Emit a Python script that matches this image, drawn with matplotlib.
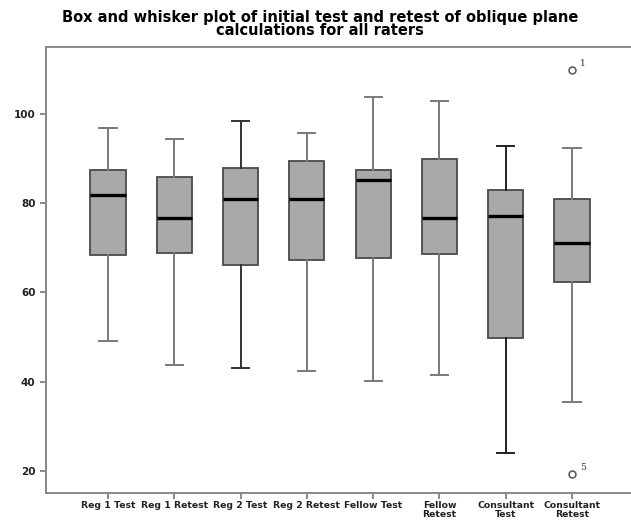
import numpy as np
import matplotlib
matplotlib.use('Agg')
import matplotlib.pyplot as plt

# groups and five-number summaries
groups = ['Reg 1 Test', 'Reg 1 Retest', 'Reg 2 Test', 'Reg 2 Retest', 'Fellow Test',
          'Fellow\nRetest', 'Consultant\nTest', 'Consultant\nRetest']
whis_lo = [49.0, 43.7, 43.0, 42.3, 40.1, 41.5, 23.9, 35.4]
q1 = [68.4, 68.9, 66.1, 67.2, 67.7, 68.6, 49.7, 62.2]
med = [81.8, 76.7, 80.9, 81.0, 85.1, 76.7, 77.1, 71.0]
q3 = [87.5, 85.8, 87.8, 89.5, 87.4, 89.9, 83.0, 81.0]
whis_hi = [96.8, 94.3, 98.5, 95.7, 103.8, 102.9, 92.8, 92.4]
fliers = [[], [], [], [], [], [], [], [109.9, 19.2]]
flier_ids = [[], [], [], [], [], [], [], ['1', '5']]

# darker whiskers on some groups
whisk_col = ['#7a7a7a', '#7a7a7a', '#333333', '#7a7a7a', '#7a7a7a', '#7a7a7a', '#222222', '#7a7a7a']

stats = []
for i in range(len(groups)):
    stats.append(dict(med=med[i], q1=q1[i], q3=q3[i], whislo=whis_lo[i],
                      whishi=whis_hi[i], fliers=fliers[i], label=groups[i]))

fig = plt.figure(figsize=(6.31, 5.22), dpi=100)
ax = fig.add_axes([46/631, 29/522, 588/631, 446/522])

pos = np.arange(1, len(groups) + 1)
bp = ax.bxp(stats, positions=pos, widths=0.53, patch_artist=True,
            boxprops=dict(facecolor='#a9a9a9', edgecolor='#4a4a4a', linewidth=1.3),
            medianprops=dict(color='black', linewidth=2.4),
            flierprops=dict(marker='o', markersize=5, markerfacecolor='white',
                            markeredgecolor='#555555', markeredgewidth=1.1))

for i in range(len(groups)):
    for ln in bp['whiskers'][2*i:2*i+2] + bp['caps'][2*i:2*i+2]:
        ln.set_color(whisk_col[i])
        ln.set_linewidth(1.4)
    for ln in bp['caps'][2*i:2*i+2]:
        c = np.mean(ln.get_xdata())
        ln.set_xdata([c - 0.13, c + 0.13])

# outlier case numbers
for i in range(len(groups)):
    for v, t in zip(fliers[i], flier_ids[i]):
        ax.annotate(t, (pos[i], v), xytext=(6, 3), textcoords='offset points',
                    fontsize=6.5, family='DejaVu Serif', color='#333333')

ax.set_xlim(0.064, 8.936)
ax.set_ylim(15, 115)
ax.set_yticks([20, 40, 60, 80, 100])
ax.set_xticks(pos)
ax.set_xticklabels(groups, fontsize=6.7, fontweight='bold', linespacing=0.9)
ax.tick_params(axis='y', labelsize=7.5, length=4, width=1.2, color='#777777', labelcolor='#222222')
ax.tick_params(axis='x', length=4, width=1.2, color='#777777', labelcolor='#222222', pad=2)
for lab in ax.get_yticklabels():
    lab.set_fontweight('bold')

for s in ['left', 'bottom', 'top']:
    ax.spines[s].set_color('#888888')
    ax.spines[s].set_linewidth(1.4)
ax.spines['right'].set_visible(False)

fig.text(0.507, 0.981, 'Box and whisker plot of initial test and retest of oblique plane\ncalculations for all raters',
         ha='center', va='top', fontsize=10.5, fontweight='bold', linespacing=0.85)

fig.savefig('out.png', dpi=100)
